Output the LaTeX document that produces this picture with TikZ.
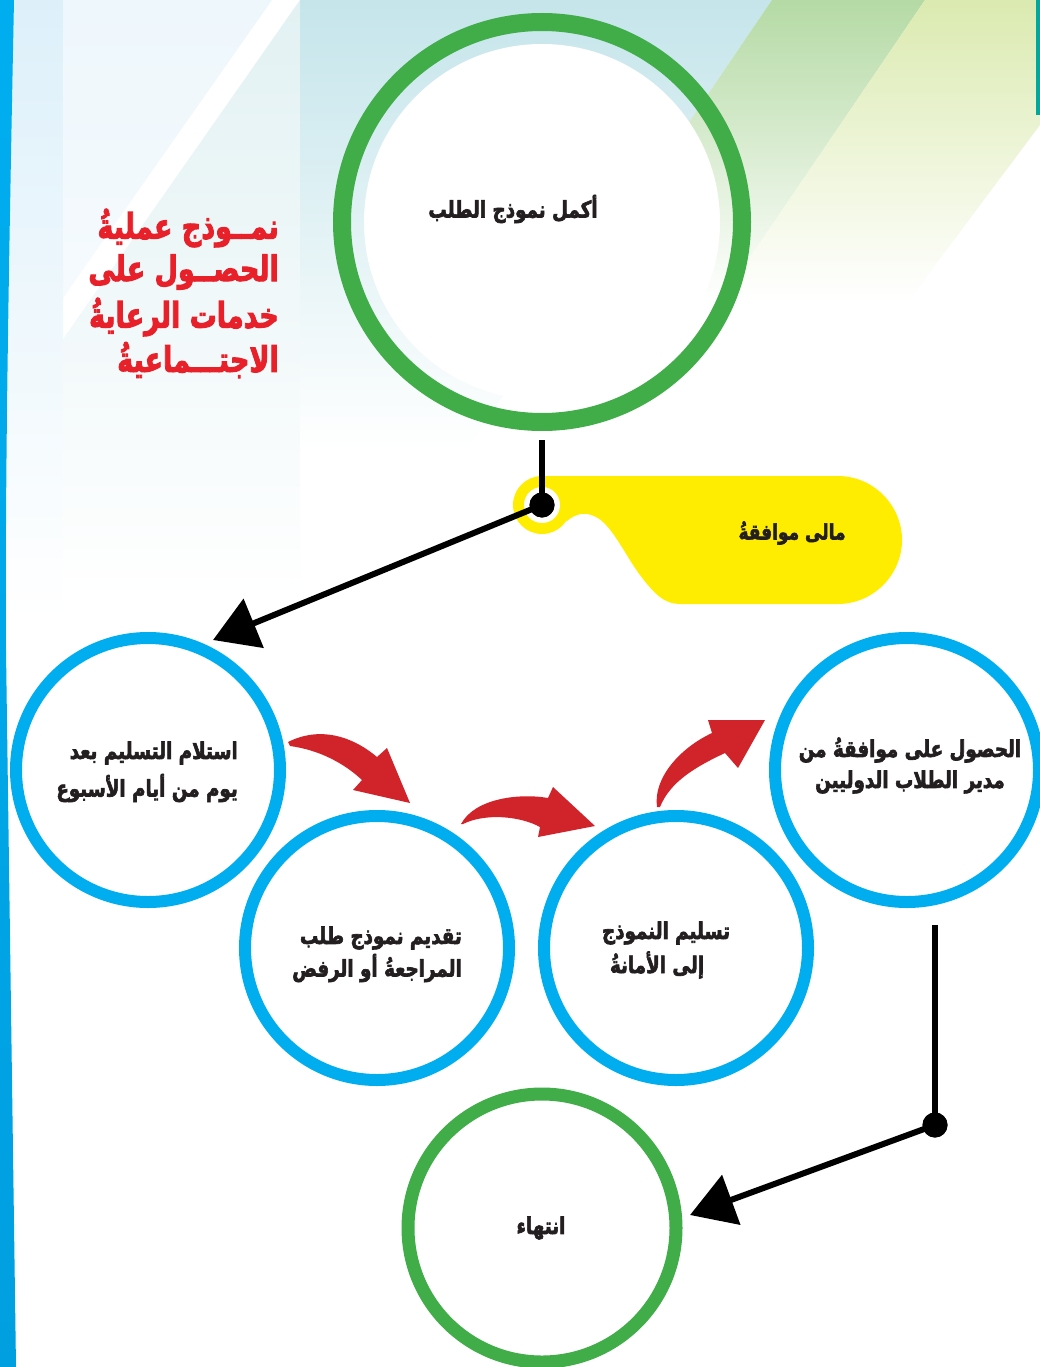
\documentclass[tikz,border=0pt]{standalone}
\usepackage{fontspec}
\usetikzlibrary{arrows.meta}
\newfontfamily\arabicfont[Script=Arabic,BoldFont={DejaVu Sans Bold},BoldFeatures={FakeBold=3}]{DejaVu Sans}
\TeXXeTstate=1
\newcommand{\tallR}[2][1.25]{\scalebox{1}[#1]{\beginR #2\endR}}
\definecolor{cblue}{HTML}{00AEEF}
\definecolor{cbluedark}{HTML}{0068A8}
\definecolor{cblueb}{HTML}{009FE0}
\definecolor{cgreen}{HTML}{40AD48}
\definecolor{cyellow}{HTML}{FFED00}
\definecolor{ctitle}{HTML}{E8202A}
\definecolor{carrow}{HTML}{D1232A}
\definecolor{ctext}{HTML}{231F20}
\definecolor{bgstrip}{HTML}{DDF0FA}
\definecolor{bga}{HTML}{EEF7FC}
\definecolor{bgb}{HTML}{E2F1F3}
\definecolor{bgc}{HTML}{C5E5EB}
\definecolor{bgd}{HTML}{B5DAA5}
\definecolor{bge}{HTML}{DBEAB0}
\definecolor{cteal}{HTML}{00A99D}
\tikzset{
  bluering/.style={circle, draw=cblue, line width=12pt, fill=white, minimum size=264pt, inner sep=0pt},
  greenring/.style={circle, draw=cgreen, line width=13pt, fill=white, minimum size=268pt, inner sep=0pt},
  artext/.style={font=\arabicfont\bfseries\fontsize{18.3}{30}\selectfont, text=ctext, inner sep=0pt},
  titletext/.style={font=\arabicfont\bfseries\fontsize{27}{40}\selectfont, text=ctitle, inner sep=0pt, anchor=east},
  blackline/.style={draw=black, line width=6pt},
  bigtip/.style={-{Triangle[length=44pt,width=52pt]}},
  blackdot/.style={circle, fill=black, minimum size=25pt, inner sep=0pt},
  redarrow/.style={fill=carrow}
}
\begin{document}
\begin{tikzpicture}[x=1pt,y=-1pt]
\useasboundingbox (0,0) rectangle (1040,1367);
\clip (0,0) rectangle (1040,1367);
\fill[white] (0,0) rectangle (1040,1367);
% background panels
\shade[top color=bgstrip, bottom color=white] (12,0) -- (63,0) -- (63,620) -- (6,620) -- cycle;
\shade[top color=bga, bottom color=bga!60!white] (63,0) -- (272,0) -- (63,298) -- cycle;
\shade[top color=bgb, bottom color=white] (300,0) -- (300,600) -- (63,600) -- (63,339) -- cycle;
\shade[top color=bgc, bottom color=white] (300,0) -- (772,0) -- (466,450) -- (300,450) -- cycle;
\shade[top color=bgd, bottom color=white] (772,0) -- (925,0) -- (721,300) -- (568,300) -- cycle;
\shade[top color=bge, bottom color=white] (925,0) -- (1040,0) -- (1040,125) -- (909,300) -- (721,300) -- cycle;
\fill[cteal] (1036,0) rectangle (1040,115);
\shade[top color=cblue, middle color=cbluedark, bottom color=cblueb] (0,0) -- (14,0) .. controls (8,300) and (5,500) .. (6,650) -- (16,1367) -- (0,1367) -- cycle;
% title
\node[titletext] (title1) at (279,228) {\tallR[1.3]{نمــوذج  عمليةُ}};
\node[titletext] (title2) at (279,272) {\tallR[1.3]{الحصــول على}};
\node[titletext] (title3) at (279,317) {\tallR[1.3]{خدمات الرعايةُ}};
\node[titletext] (title4) at (279,360) {\tallR[1.3]{الاجتـــماعيةُ}};
% top circle
\node[circle, fill=white, minimum size=356pt, inner sep=0pt] (topin) at (542,222) {};
\node[circle, draw=cgreen, line width=18pt, minimum size=400pt, inner sep=0pt] (top) at (542,222) {};
\node[artext] (toptext) at (513,209) {\tallR{أكمل نموذج الطلب}};
% yellow label
\fill[cyellow] (542,476) -- (838,476) .. controls (873,476) and (902,505) .. (902,540) .. controls (902,575) and (873,604) .. (838,604) -- (680,604) .. controls (665,604) and (655,595) .. (640,575) .. controls (625,555) and (612,525) .. (596,517) .. controls (585,511) and (575,514) .. (567,521) -- (542,505) -- cycle;
\fill[cyellow] (542,505) circle[radius=29pt];
\fill[white] (542,505) circle[radius=18pt];
\node[artext, font=\arabicfont\bfseries\fontsize{17}{28}\selectfont] (yes) at (792,533) {\tallR{مالى موافقةُ}};
% circles
\node[bluering] (c1) at (148,770) {};
\node[bluering] (c2) at (377,948) {};
\node[bluering] (c3) at (676,948) {};
\node[bluering] (c4) at (907,770) {};
\node[greenring] (cend) at (542,1228) {};
\node[artext, anchor=east] (t1a) at (238,753) {\tallR{استلام التسليم بعد}};
\node[artext, anchor=east] (t1b) at (238,788) {\tallR{يوم من أيام الأسبوع}};
\node[artext, anchor=east] (t2a) at (462,938) {\tallR{تقديم نموذج طلب}};
\node[artext, anchor=east] (t2b) at (462,968) {\tallR{المراجعةُ أو الرفض}};
\node[artext] (t3a) at (666,933) {\tallR{تسليم النموذج}};
\node[artext] (t3b) at (657,965) {\tallR{إلى الأمانةُ}};
\node[artext] (t4a) at (910,750) {\tallR{الحصول على موافقةُ من}};
\node[artext] (t4b) at (910,782) {\tallR{مدير الطلاب الدوليين}};
\node[artext] (tend) at (541,1228) {\tallR{انتهاء}};
% black connectors
\node[blackdot] (d1) at (542,505) {};
\node[blackdot] (d2) at (935,1125) {};
\coordinate (s1) at (542,440);
\coordinate (e1) at (213,640);
\coordinate (s2) at (935,925);
\coordinate (e2) at (690,1215);
\draw[blackline] (s1) -- (d1.center);
\draw[blackline, bigtip] (d1.center) -- (e1);
\draw[blackline] (s2) -- (d2.center);
\draw[blackline, bigtip] (d2.center) -- (e2);
\node[blackdot] at (d1) {};
\node[blackdot] at (d2) {};
% red arrows
\fill[redarrow] (288,742) .. controls (320,726) and (352,736) .. (377,757) -- (387,748) -- (410,803) -- (353,790) -- (362,780) .. controls (345,764) and (320,750) .. (290,746) -- cycle;
\fill[redarrow] (461,824) .. controls (475,798) and (520,793) .. (548,798) -- (553,787) -- (595,826) -- (538,837) -- (540,827) .. controls (520,816) and (485,813) .. (463,824) -- cycle;
\fill[redarrow] (657,807) .. controls (653,778) and (680,748) .. (712,733) -- (708,720) -- (765,720) -- (738,768) -- (725,753) .. controls (695,767) and (670,782) .. (660,807) -- cycle;
\end{tikzpicture}
\end{document}
